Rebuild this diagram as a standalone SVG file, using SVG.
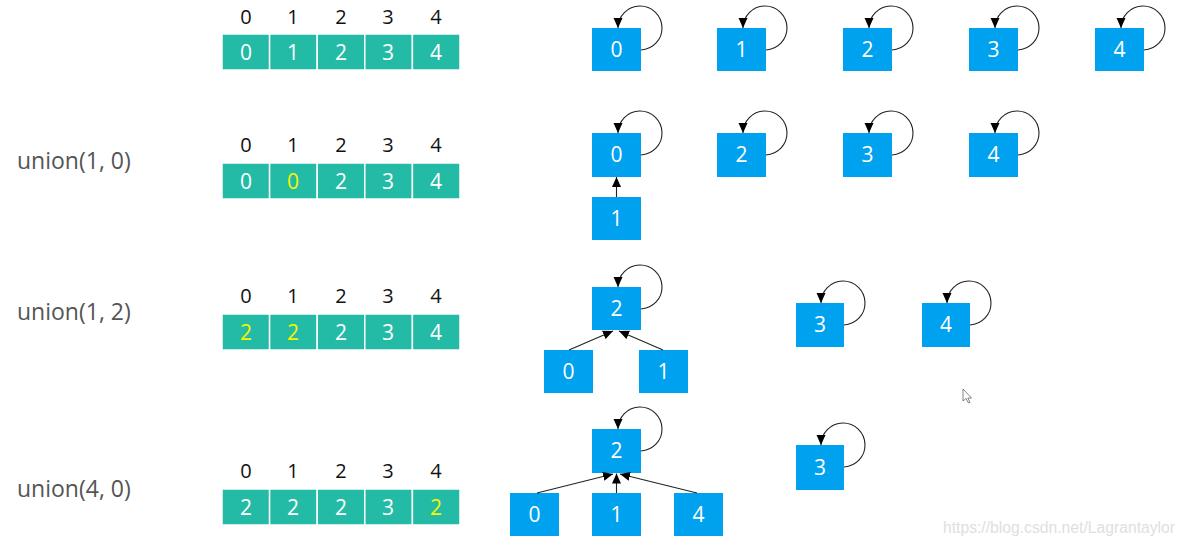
<svg xmlns="http://www.w3.org/2000/svg" width="1186" height="545" viewBox="0 0 1186 545">
<defs>
<marker id="ah" viewBox="0 0 10 10" refX="10" refY="5" markerWidth="10" markerHeight="10" markerUnits="userSpaceOnUse" orient="auto">
<path d="M0,0.5 L10,5 L0,9.5 z" fill="#000"/>
</marker>
<style>
.cell{fill:#23bba6;stroke:#ffffff;stroke-width:1.5}
.cv{font-family:"Open Sans","Noto Sans",sans-serif;font-size:21px;fill:#ffffff;text-anchor:middle}
.hl{fill:#f5f500}
.idx{font-family:"Open Sans","Noto Sans",sans-serif;font-size:20px;fill:#111;text-anchor:middle}
.op{font-family:"Open Sans","Noto Sans",sans-serif;font-size:23px;fill:#555}
.box{fill:#00a2ef}
.bt{font-family:"Open Sans","Noto Sans",sans-serif;font-size:21px;fill:#ffffff;text-anchor:middle}
.lk{fill:none;stroke:#222;stroke-width:1.1;marker-end:url(#ah)}
.wm{font-family:"Liberation Sans",Arial,sans-serif;font-size:16px;fill:#e0e0e0}
</style>
</defs>
<rect width="1186" height="545" fill="#ffffff"/>

<!-- operation labels -->
<text class="op" x="17" y="169">union(1, 0)</text>
<text class="op" x="17" y="320">union(1, 2)</text>
<text class="op" x="17" y="497">union(4, 0)</text>

<!-- arrays -->
<g id="array1">
<text class="idx" x="246" y="24">0</text><text class="idx" x="293" y="24">1</text><text class="idx" x="341" y="24">2</text><text class="idx" x="388" y="24">3</text><text class="idx" x="436" y="24">4</text>
<rect class="cell" x="222" y="34" width="47.6" height="36"/><rect class="cell" x="269.6" y="34" width="47.6" height="36"/><rect class="cell" x="317.2" y="34" width="47.6" height="36"/><rect class="cell" x="364.8" y="34" width="47.6" height="36"/><rect class="cell" x="412.4" y="34" width="47.6" height="36"/>
<text class="cv" x="246" y="60">0</text><text class="cv" x="293" y="60">1</text><text class="cv" x="341" y="60">2</text><text class="cv" x="388" y="60">3</text><text class="cv" x="436" y="60">4</text>
</g>
<g id="array2">
<text class="idx" x="246" y="152">0</text><text class="idx" x="293" y="152">1</text><text class="idx" x="341" y="152">2</text><text class="idx" x="388" y="152">3</text><text class="idx" x="436" y="152">4</text>
<rect class="cell" x="222" y="163" width="47.6" height="36"/><rect class="cell" x="269.6" y="163" width="47.6" height="36"/><rect class="cell" x="317.2" y="163" width="47.6" height="36"/><rect class="cell" x="364.8" y="163" width="47.6" height="36"/><rect class="cell" x="412.4" y="163" width="47.6" height="36"/>
<text class="cv" x="246" y="189">0</text><text class="cv hl" x="293" y="189">0</text><text class="cv" x="341" y="189">2</text><text class="cv" x="388" y="189">3</text><text class="cv" x="436" y="189">4</text>
</g>
<g id="array3">
<text class="idx" x="246" y="303">0</text><text class="idx" x="293" y="303">1</text><text class="idx" x="341" y="303">2</text><text class="idx" x="388" y="303">3</text><text class="idx" x="436" y="303">4</text>
<rect class="cell" x="222" y="314" width="47.6" height="36"/><rect class="cell" x="269.6" y="314" width="47.6" height="36"/><rect class="cell" x="317.2" y="314" width="47.6" height="36"/><rect class="cell" x="364.8" y="314" width="47.6" height="36"/><rect class="cell" x="412.4" y="314" width="47.6" height="36"/>
<text class="cv hl" x="246" y="340">2</text><text class="cv hl" x="293" y="340">2</text><text class="cv" x="341" y="340">2</text><text class="cv" x="388" y="340">3</text><text class="cv" x="436" y="340">4</text>
</g>
<g id="array4">
<text class="idx" x="246" y="478">0</text><text class="idx" x="293" y="478">1</text><text class="idx" x="341" y="478">2</text><text class="idx" x="388" y="478">3</text><text class="idx" x="436" y="478">4</text>
<rect class="cell" x="222" y="489" width="47.6" height="36"/><rect class="cell" x="269.6" y="489" width="47.6" height="36"/><rect class="cell" x="317.2" y="489" width="47.6" height="36"/><rect class="cell" x="364.8" y="489" width="47.6" height="36"/><rect class="cell" x="412.4" y="489" width="47.6" height="36"/>
<text class="cv" x="246" y="515">2</text><text class="cv" x="293" y="515">2</text><text class="cv" x="341" y="515">2</text><text class="cv" x="388" y="515">3</text><text class="cv hl" x="436" y="515">2</text>
</g>

<!-- row 1 nodes -->
<g id="r1n0"><rect class="box" x="592" y="28" width="49" height="43"/><text class="bt" x="616.5" y="57">0</text></g>
<g id="r1n1"><rect class="box" x="717" y="28" width="49" height="43"/><text class="bt" x="741.5" y="57">1</text></g>
<g id="r1n2"><rect class="box" x="843" y="28" width="49" height="43"/><text class="bt" x="867.5" y="57">2</text></g>
<g id="r1n3"><rect class="box" x="969" y="28" width="49" height="43"/><text class="bt" x="993.5" y="57">3</text></g>
<g id="r1n4"><rect class="box" x="1095" y="28" width="49" height="43"/><text class="bt" x="1119.5" y="57">4</text></g>

<!-- row 2 nodes -->
<g id="r2n0"><rect class="box" x="592" y="133" width="49" height="44"/><text class="bt" x="616.5" y="162">0</text></g>
<g id="r2n1"><rect class="box" x="592" y="197" width="49" height="43"/><text class="bt" x="616.5" y="226">1</text></g>
<g id="r2n2"><rect class="box" x="717" y="133" width="49" height="44"/><text class="bt" x="741.5" y="162">2</text></g>
<g id="r2n3"><rect class="box" x="843" y="133" width="49" height="44"/><text class="bt" x="867.5" y="162">3</text></g>
<g id="r2n4"><rect class="box" x="969" y="133" width="49" height="44"/><text class="bt" x="993.5" y="162">4</text></g>

<!-- row 3 nodes -->
<g id="r3n2"><rect class="box" x="592" y="287" width="49" height="43"/><text class="bt" x="616.5" y="316">2</text></g>
<g id="r3n0"><rect class="box" x="544" y="350" width="49" height="43"/><text class="bt" x="568.5" y="379">0</text></g>
<g id="r3n1"><rect class="box" x="639" y="350" width="49" height="43"/><text class="bt" x="663.5" y="379">1</text></g>
<g id="r3n3"><rect class="box" x="796" y="303" width="48" height="44"/><text class="bt" x="820" y="332">3</text></g>
<g id="r3n4"><rect class="box" x="922" y="303" width="48" height="44"/><text class="bt" x="946" y="332">4</text></g>

<!-- row 4 nodes -->
<g id="r4n2"><rect class="box" x="592" y="429" width="49" height="44"/><text class="bt" x="616.5" y="458">2</text></g>
<g id="r4n0"><rect class="box" x="510" y="493" width="49" height="43"/><text class="bt" x="534.5" y="522">0</text></g>
<g id="r4n1"><rect class="box" x="592" y="493" width="49" height="43"/><text class="bt" x="616.5" y="522">1</text></g>
<g id="r4n4"><rect class="box" x="674" y="493" width="49" height="43"/><text class="bt" x="698.5" y="522">4</text></g>
<g id="r4n3"><rect class="box" x="796" y="445" width="48" height="45"/><text class="bt" x="820" y="475">3</text></g>

<!-- connectors -->
<g id="connectors">
<path class="lk" d="M641,50 A22,22 0 1 0 618,28"/>
<path class="lk" d="M766,50 A22,22 0 1 0 743,28"/>
<path class="lk" d="M892,50 A22,22 0 1 0 869,28"/>
<path class="lk" d="M1018,50 A22,22 0 1 0 995,28"/>
<path class="lk" d="M1144,50 A22,22 0 1 0 1121,28"/>

<path class="lk" d="M641,155 A22,22 0 1 0 618,133"/>
<path class="lk" d="M766,155 A22,22 0 1 0 743,133"/>
<path class="lk" d="M892,155 A22,22 0 1 0 869,133"/>
<path class="lk" d="M1018,155 A22,22 0 1 0 995,133"/>
<path class="lk" d="M616.5,197 L616.5,177"/>

<path class="lk" d="M641,309 A22,22 0 1 0 618,287"/>
<path class="lk" d="M844,325 A22,22 0 1 0 821,303"/>
<path class="lk" d="M970,325 A22,22 0 1 0 947,303"/>
<path class="lk" d="M569,350 L613,331"/>
<path class="lk" d="M663,350 L619,331"/>

<path class="lk" d="M641,451 A22,22 0 1 0 618,429"/>
<path class="lk" d="M844,467 A22,22 0 1 0 821,445"/>
<path class="lk" d="M537,493 L613,474"/>
<path class="lk" d="M616.5,493 L616.5,473.5"/>
<path class="lk" d="M697,493 L620,474"/>
</g>

<!-- cursor -->
<path d="M963,389 L963,401 L966,398.5 L968.5,403 L970,402.3 L967.8,398 L971.5,398 Z" fill="#fff" stroke="#666" stroke-width="0.8"/>

<text class="wm" x="943" y="533" textLength="232" lengthAdjust="spacingAndGlyphs">https://blog.csdn.net/Lagrantaylor</text>
</svg>
